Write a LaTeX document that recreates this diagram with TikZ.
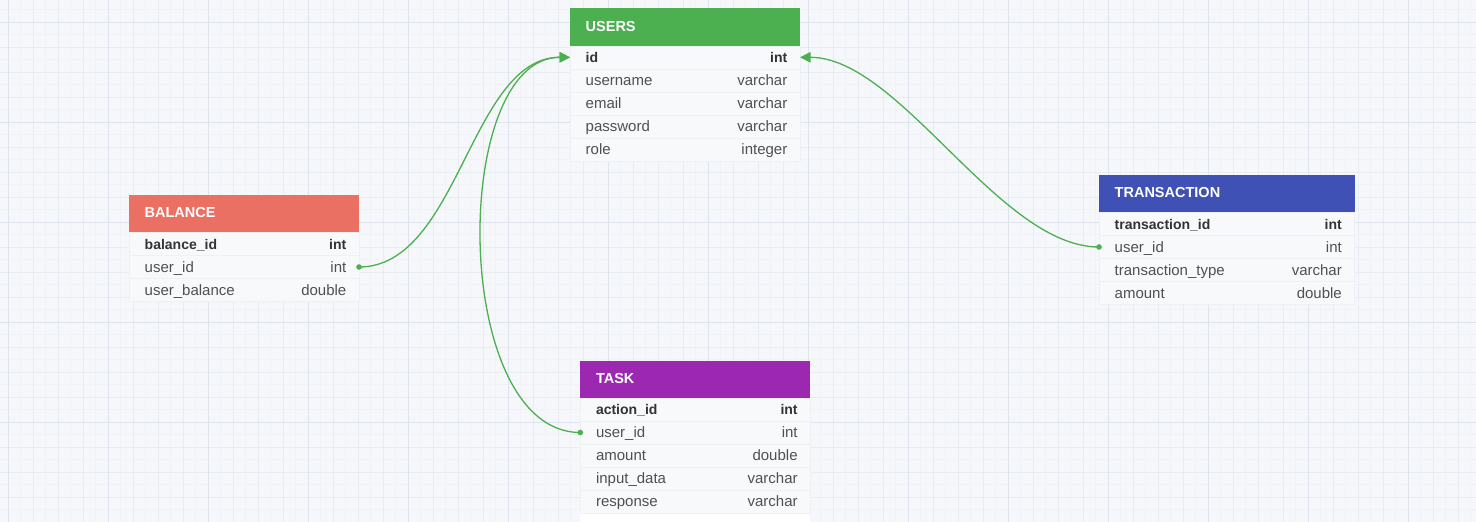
\documentclass[tikz,border=0pt]{standalone}
\usepackage{fontspec}
\setmainfont{Liberation Sans}
\usetikzlibrary{arrows.meta}
\definecolor{bgc}{HTML}{F6F7FB}
\definecolor{gridfine}{HTML}{F0F2F7}
\definecolor{gridmid}{HTML}{E8ECF3}
\definecolor{gridmaj}{HTML}{DDE4EE}
\definecolor{rowbg}{HTML}{F8F9FA}
\definecolor{rowline}{HTML}{EEF0F3}
\definecolor{regc}{HTML}{505050}
\definecolor{boldc}{HTML}{333333}
\definecolor{usersc}{HTML}{4CAF50}
\definecolor{balancec}{HTML}{E97063}
\definecolor{transc}{HTML}{3F51B5}
\definecolor{taskc}{HTML}{9C27B0}
\definecolor{connc}{HTML}{4CAF50}
\tikzset{
  hdr/.style={anchor=north west, minimum height=37.5pt, inner sep=0pt, outer sep=0pt, draw=none},
  htext/.style={anchor=base west, inner sep=0pt, text=white, font=\fontsize{14.5pt}{17pt}\selectfont\bfseries},
  rowbox/.style={anchor=north west, minimum height=23pt, inner sep=0pt, outer sep=0pt, fill=rowbg, draw=rowline, line width=0.6pt},
  fname/.style={anchor=base west, inner sep=0pt},
  fr/.style={text=regc, font=\fontsize{15pt}{18pt}\selectfont},
  fb/.style={text=boldc, font=\fontsize{14pt}{17pt}\selectfont\bfseries},
  conn/.style={draw=connc, line width=1.3pt},
  tipc/.style={-{Triangle[length=10.5pt,width=10.5pt]}},
}
\newcommand\ertable[7]{%
  \node[hdr, fill=#5, minimum width=#4pt] (#1) at (#2,#3) {};
  \node[htext] (#1-title) at ({#2+15.5},{#3+22.8}) {#6};
  \foreach \fn/\ty/\st [count=\i] in {#7} {
    \node[rowbox, minimum width=#4pt] (#1-\i) at ({#2},{#3+37.5+(\i-1)*23}) {};
    \node[fname,\st] (#1-\i-n) at ({#2+15.5},{#3+37.5+(\i-1)*23+16.8}) {\fn};
    \node[fname,\st,anchor=base east] (#1-\i-t) at ({#2+#4-12.5},{#3+37.5+(\i-1)*23+16.8}) {\ty};
  }
}
\begin{document}
\begin{tikzpicture}[x=1pt,y=-1pt]
\useasboundingbox (0,0) rectangle (1476,522);
\fill[bgc] (0,0) rectangle (1476,522);
% grid
\foreach \x in {-4.5,8,...,1480} \draw[gridfine, line width=0.8pt] (\x,0) -- (\x,522);
\foreach \y in {-3,9.5,...,525} \draw[gridfine, line width=0.8pt] (0,\y) -- (1476,\y);
\foreach \x in {8,33,...,1480} \draw[gridmid, line width=0.8pt] (\x,0) -- (\x,522);
\foreach \y in {-3,22,...,525} \draw[gridmid, line width=0.8pt] (0,\y) -- (1476,\y);
\foreach \x in {8,108,...,1480} \draw[gridmaj, line width=0.9pt] (\x,0) -- (\x,522);
\foreach \y in {22,122,...,525} \draw[gridmaj, line width=0.9pt] (0,\y) -- (1476,\y);

% tables
\ertable{users}{570}{8.3}{230}{usersc}{USERS}{id/int/fb, username/varchar/fr, email/varchar/fr, password/varchar/fr, role/integer/fr}
\ertable{balance}{129}{195}{230}{balancec}{BALANCE}{balance\_id/int/fb, user\_id/int/fr, user\_balance/double/fr}
\ertable{transaction}{1099}{175}{255.5}{transc}{TRANSACTION}{transaction\_id/int/fb, user\_id/int/fr, transaction\_type/varchar/fr, amount/double/fr}
\ertable{task}{580.3}{360.5}{230}{taskc}{TASK}{action\_id/int/fb, user\_id/int/fr, amount/double/fr, input\_data/varchar/fr, response/varchar/fr}
\fill[white] (580.3,513.8) rectangle (810.3,523);

% connectors
\draw[conn, tipc] (balance-2.east) .. controls +(100,0) and +(-100,0) .. (users-1.west);
\draw[conn, tipc] (task-2.west) .. controls +(-130,0) and +(-120,0) .. (users-1.west);
\draw[conn, tipc] (transaction-2.west) .. controls +(-100,0) and +(100,0) .. (users-1.east);
\fill[connc] (balance-2.east) circle (2.8pt);
\fill[connc] (task-2.west) circle (2.8pt);
\fill[connc] (transaction-2.west) circle (2.8pt);
\end{tikzpicture}
\end{document}
